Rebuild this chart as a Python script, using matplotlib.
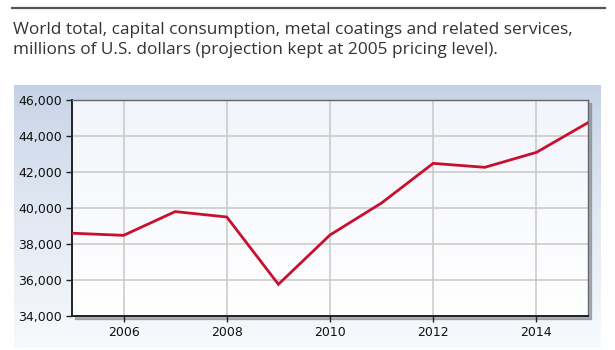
import numpy as np
import matplotlib
matplotlib.use('Agg')
import matplotlib.pyplot as plt
from matplotlib.patches import Rectangle

years = [2005, 2006, 2007, 2008, 2009, 2010, 2011, 2012, 2013, 2014, 2015]
values = [38600, 38480, 39800, 39500, 35760, 38500, 40280, 42480, 42260, 43090, 44740]
x_ticks = [2006, 2008, 2010, 2012, 2014]
y_ticks = [34000, 36000, 38000, 40000, 42000, 44000, 46000]
title = ("World total, capital consumption, metal coatings and related services,\n"
         "millions of U.S. dollars (projection kept at 2005 pricing level).")

LINE_COLOR = '#c8102e'
W, H = 615, 350

fig = plt.figure(figsize=(W / 100, H / 100), dpi=100)
fig.patch.set_facecolor('white')

# top rule
fig.add_artist(plt.Line2D([12 / W, 605 / W], [1 - 8 / H, 1 - 8 / H], color='#555555', lw=1.6))

fig.text(13 / W, 1 - 22 / H, title, ha='left', va='top', fontsize=12.4,
         family='Open Sans', color='#333333', linespacing=1.33)

# gradient panel behind the chart
bg = fig.add_axes([14 / W, 2 / H, (601 - 14) / W, (H - 85 - 2) / H], zorder=0)
grad = np.linspace(0, 1, 256).reshape(-1, 1)
top_c = np.array([0.77, 0.82, 0.90])
bot_c = np.array([0.97, 0.98, 0.99])
img = top_c + (bot_c - top_c) * grad[..., None] ** 0.8
bg.imshow(img, aspect='auto', extent=[0, 1, 0, 1])
bg.axis('off')

ax = fig.add_axes([72 / W, 1 - 316 / H, (588 - 72) / W, (316 - 100) / H], zorder=2)
ax.set_facecolor('none')

# plot area fill with faint gradient
pa = np.linspace(0, 1, 256).reshape(-1, 1)
pa_top = np.array([0.95, 0.96, 0.985])
pa_bot = np.array([1.0, 1.0, 1.0])
ax.imshow(pa_top + (pa_bot - pa_top) * pa[..., None], aspect='auto',
          extent=[2005, 2015, 34000, 46000], zorder=0)

# shadow
fig.add_artist(Rectangle((75 / W, 1 - 319 / H), (588 - 72) / W, (316 - 100) / H,
                         transform=fig.transFigure, color='#6f7885', alpha=0.55, zorder=1))

ax.plot(years, values, color=LINE_COLOR, lw=2, zorder=3, solid_joinstyle='miter')

ax.set_xlim(2005, 2015)
ax.set_ylim(34000, 46000)
ax.set_xticks(x_ticks)
ax.set_yticks(y_ticks)
ax.set_yticklabels([f'{v:,}' for v in y_ticks])
ax.grid(True, color='#c8c8c8', lw=1.1, zorder=1)
ax.set_axisbelow(True)

for s in ['left', 'bottom']:
    ax.spines[s].set_color('#222222')
    ax.spines[s].set_linewidth(1.4)
for s in ['top', 'right']:
    ax.spines[s].set_color('#666666')
    ax.spines[s].set_linewidth(1.0)

ax.tick_params(axis='both', direction='out', length=4, width=1, color='#222222',
               labelsize=9, labelcolor='#111111', pad=3)
for lab in ax.get_xticklabels() + ax.get_yticklabels():
    lab.set_family('DejaVu Sans')

fig.savefig('out.png', dpi=100)
